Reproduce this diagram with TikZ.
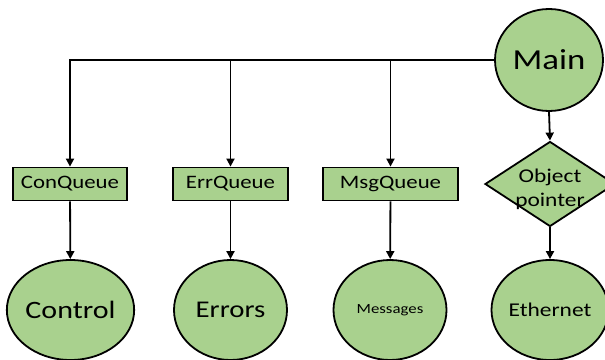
\documentclass[tikz,border=0pt]{standalone}
\usepackage{fontspec}
\setmainfont[FakeStretch=1.2]{Carlito}
\usetikzlibrary{shapes.geometric,arrows.meta}

\definecolor{leaf}{RGB}{169,209,142}

\begin{document}
\begin{tikzpicture}[
        x=1pt, y=-1pt,
        line width=1.8pt,
        blob/.style={ellipse, draw=black, fill=leaf, inner sep=0pt,
                     minimum width=113pt, minimum height=100pt},
        queue/.style={rectangle, draw=black, fill=leaf, inner sep=0pt,
                      minimum height=33pt, font=\fontsize{19}{21}\selectfont},
        choice/.style={diamond, draw=black, fill=leaf, inner sep=0pt,
                       minimum width=130pt, minimum height=85pt},
        flow/.style={-{Triangle[length=8pt,width=8pt]}}
    ]

    \useasboundingbox (0,0) rectangle (605,359);

    % columns and rows
    \def\rowq{184}
    \def\rowb{310}

    \coordinate (M) at (549,60);
    \coordinate (Q1) at (70,\rowq);
    \coordinate (Q2) at (230.5,\rowq);
    \coordinate (Q3) at (390.5,\rowq);
    \coordinate (Q4) at (550,\rowq);

    \node[blob, minimum width=108pt, minimum height=102pt,
          font=\fontsize{29}{31}\selectfont] (main) at (M) {Main};

    \node[queue, minimum width=114pt] (conq) at (Q1) {ConQueue};
    \node[queue, minimum width=115pt] (errq) at (Q2) {ErrQueue};
    \node[queue, minimum width=135pt] (msgq) at (Q3) {MsgQueue};
    \node[choice, label={[align=center, yshift=-5pt, font=\fontsize{19.5}{24}\selectfont]center:Object\\pointer}]
        (objp) at (Q4) {};

    \node[blob, font=\fontsize{25}{27}\selectfont] (ctrl) at (70.5,\rowb) {Control};
    \node[blob, font=\fontsize{24}{26}\selectfont] (errs) at (230.5,\rowb) {Errors};
    \node[blob, font=\fontsize{14}{16}\selectfont] (msgs) at (390,\rowb) {Messages};
    \node[blob, minimum width=110pt, font=\fontsize{19.5}{22}\selectfont] (eth) at (550,\rowb) {Ethernet};

    \draw[flow] (main.west) -| (conq.north);
    \draw[flow] (errq.north |- main.west) -- (errq.north);
    \draw[flow] (msgq.north |- main.west) -- (msgq.north);
    \draw[flow] (main.south) -- (objp.north);

    \draw[flow] (conq) -- (ctrl);
    \draw[flow] (errq) -- (errs);
    \draw[flow] (msgq) -- (msgs);
    \draw[flow] (objp) -- (eth);
\end{tikzpicture}
\end{document}
